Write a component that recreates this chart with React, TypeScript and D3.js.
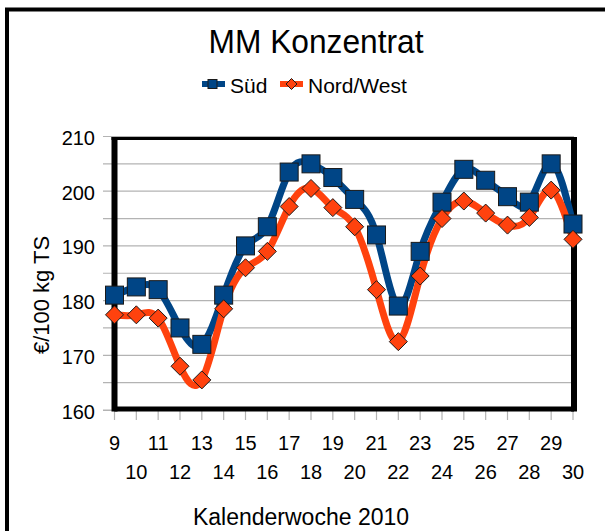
import * as d3 from "d3";

const weeks = [9, 10, 11, 12, 13, 14, 15, 16, 17, 18, 19, 20, 21, 22, 23, 24, 25, 26, 27, 28, 29, 30];
const sued = [181, 182.5, 182, 175, 172, 181, 190, 193.5, 203.5, 205, 202.5, 198.5, 192, 179, 189, 198, 204, 202, 199, 198, 205, 194];
const nordWest = [177.4, 177.4, 176.8, 168, 165.5, 178.5, 186, 189, 197.2, 200.5, 197, 193.5, 182, 172.5, 184.5, 195, 198.2, 196, 193.8, 195.2, 200.2, 191.2];
const yTicks = [160, 170, 180, 190, 200, 210];
const yGrid = d3.range(160, 211, 5);

const W = 605;
const H = 531;
const FONT = "'Liberation Sans', Arial, sans-serif";
const BLUE = "#004586";
const ORANGE = "#ff420e";

const x = d3.scalePoint<number>().domain(weeks).range([114.5, 573]);
const y = d3.scaleLinear().domain([160, 210]).range([410, 136.5]);

export default function App() {
  const line = d3
    .line<number>()
    .x((_, i) => x(weeks[i])!)
    .y((d) => y(d))
    .curve(d3.curveNatural);

  const left = 114.5;
  const right = 574;
  const top = 138.5;
  const bottom = 409;

  return (
    <svg
      width={W}
      height={H}
      style={{ position: "absolute", left: 0, top: 0, background: "#fff" }}
      fontFamily={FONT}
    >
      {/* outer frame */}
      <rect x={7} y={9.5} width={W + 20} height={H + 20} fill="none" stroke="#000" strokeWidth={4} />

      <text x={316} y={53} textAnchor="middle" fontSize={34} textLength={215} lengthAdjust="spacingAndGlyphs">
        MM Konzentrat
      </text>

      {/* legend */}
      <g>
        <line x1={202} x2={225} y1={84} y2={84} stroke={BLUE} strokeWidth={6} />
        <rect x={208} y={79.5} width={9} height={9} fill={BLUE} stroke="#1a1a1a" strokeWidth={1} />
        <text x={230} y={93} fontSize={21}>Süd</text>
        <line x1={280} x2={303} y1={84} y2={84} stroke={ORANGE} strokeWidth={6} />
        <path d="M291.5,78.5 L297,84 L291.5,89.5 L286,84 Z" fill={ORANGE} stroke="#1a1a1a" strokeWidth={1} />
        <text x={308} y={93} fontSize={21}>Nord/West</text>
      </g>

      {/* grid and y ticks */}
      {yGrid.map((v) => (
        <line key={v} x1={103} x2={right} y1={y(v)} y2={y(v)} stroke="#b3b3b3" strokeWidth={1.2} />
      ))}
      {yTicks.map((v) => (
        <text key={v} x={95} y={y(v) + 8.5} textAnchor="end" fontSize={20}>
          {v}
        </text>
      ))}

      {/* x axis ticks */}
      <line x1={103} x2={right} y1={410.5} y2={410.5} stroke="#b3b3b3" strokeWidth={1.2} />
      {weeks.map((w) => (
        <line key={w} x1={x(w)!} x2={x(w)!} y1={410} y2={420} stroke="#b3b3b3" strokeWidth={1.2} />
      ))}
      {weeks.map((w, i) => (
        <text key={w} x={x(w)!} y={i % 2 === 0 ? 450 : 479} textAnchor="middle" fontSize={20}>
          {w}
        </text>
      ))}

      {/* plot frame */}
      <line x1={left - 3} x2={right} y1={top} y2={top} stroke="#000" strokeWidth={3} />
      <line x1={right} x2={right} y1={top - 1.5} y2={bottom + 2.5} stroke="#000" strokeWidth={6} />
      <line x1={left} x2={left} y1={top - 1.5} y2={bottom + 2.5} stroke="#000" strokeWidth={6} />
      <line x1={left} x2={right} y1={bottom} y2={bottom} stroke="#000" strokeWidth={5} />

      {/* series */}
      <path d={line(sued)!} fill="none" stroke={BLUE} strokeWidth={7} strokeLinejoin="round" />
      <path d={line(nordWest)!} fill="none" stroke={ORANGE} strokeWidth={7} strokeLinejoin="round" />
      {sued.map((v, i) => (
        <rect
          key={i}
          x={x(weeks[i])! - 9}
          y={y(v) - 9}
          width={18}
          height={18}
          fill={BLUE}
          stroke="#1a1a1a"
          strokeWidth={1}
        />
      ))}
      {nordWest.map((v, i) => {
        const cx = x(weeks[i])!;
        const cy = y(v);
        const r = 9;
        return (
          <path
            key={i}
            d={`M${cx},${cy - r} L${cx + r},${cy} L${cx},${cy + r} L${cx - r},${cy} Z`}
            fill={ORANGE}
            stroke="#1a1a1a"
            strokeWidth={1}
          />
        );
      })}

      {/* axis titles */}
      <text transform="translate(49,295) rotate(-90)" textAnchor="middle" fontSize={22}>
        €/100 kg TS
      </text>
      <text x={301} y={525} textAnchor="middle" fontSize={23}>
        Kalenderwoche 2010
      </text>
    </svg>
  );
}
